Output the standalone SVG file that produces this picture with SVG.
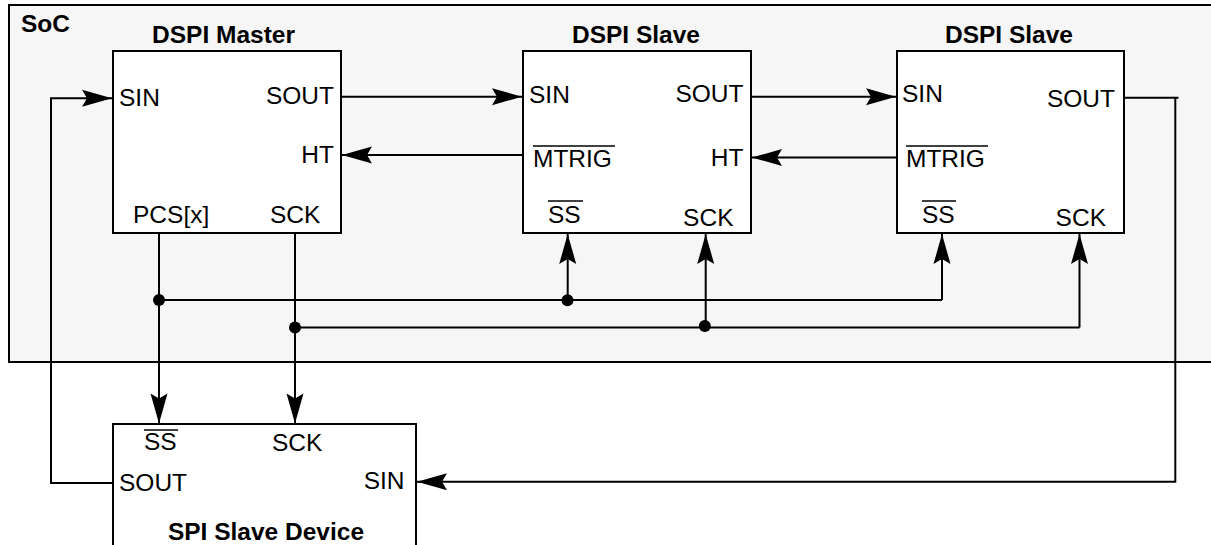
<svg xmlns="http://www.w3.org/2000/svg" width="1211" height="545" viewBox="0 0 1211 545">
<style>
.box{fill:#ffffff;stroke:#000;stroke-width:2}
.soc{fill:#f6f6f6;stroke:#000;stroke-width:2}
.w{fill:none;stroke:#000;stroke-width:2;stroke-linecap:butt}
.ol{stroke:#000;stroke-width:1.5}
.t{font-family:"Liberation Sans",Arial,sans-serif;font-size:24.5px;fill:#000}
.b{font-family:"Liberation Sans",Arial,sans-serif;font-size:24.5px;font-weight:bold;fill:#000}
.e{text-anchor:end}
.m{text-anchor:middle}
</style>
<defs>
<marker id="ah" viewBox="-31 -10 32 20" markerWidth="32" markerHeight="20" refX="0" refY="0" markerUnits="userSpaceOnUse" orient="auto">
<path d="M0,0 L-30,-8.5 L-25,0 L-30,8.5 Z" fill="#000"/>
</marker>
</defs>
<rect width="1211" height="545" fill="#fff"/>
<g id="soc">
<rect class="soc" x="9" y="5" width="1215" height="357"/>
<text class="b" x="21" y="32">SoC</text>
</g>
<g id="master">
<rect class="box" x="113" y="51" width="228" height="182"/>
<text class="b m" x="223.5" y="43">DSPI Master</text>
<text class="t" x="119" y="106">SIN</text>
<text class="t e" x="334" y="104">SOUT</text>
<text class="t e" x="334" y="163">HT</text>
<text class="t" x="133" y="223">PCS[x]</text>
<text class="t" x="270" y="223">SCK</text>
</g>
<g id="slave1">
<rect class="box" x="523" y="51" width="228" height="182"/>
<text class="b m" x="636" y="43">DSPI Slave</text>
<text class="t" x="529" y="103">SIN</text>
<text class="t e" x="743.5" y="102">SOUT</text>
<text class="t" x="533" y="167">MTRIG</text>
<line class="ol" x1="533" y1="146" x2="615" y2="146"/>
<text class="t e" x="743.5" y="166">HT</text>
<text class="t" x="548" y="223">SS</text>
<line class="ol" x1="548" y1="201" x2="583" y2="201"/>
<text class="t e" x="733.5" y="226">SCK</text>
</g>
<g id="slave2">
<rect class="box" x="897" y="51" width="227" height="182"/>
<text class="b m" x="1009" y="43">DSPI Slave</text>
<text class="t" x="902" y="102">SIN</text>
<text class="t e" x="1115" y="107">SOUT</text>
<text class="t" x="906" y="167">MTRIG</text>
<line class="ol" x1="906" y1="146" x2="988" y2="146"/>
<text class="t" x="922" y="223">SS</text>
<line class="ol" x1="922" y1="201" x2="956" y2="201"/>
<text class="t e" x="1106" y="226">SCK</text>
</g>
<g id="device">
<rect class="box" x="113" y="424" width="303" height="140"/>
<text class="t" x="144" y="450">SS</text>
<line class="ol" x1="144" y1="430" x2="178" y2="430"/>
<text class="t" x="272" y="451">SCK</text>
<text class="t" x="119" y="491">SOUT</text>
<text class="t e" x="404.5" y="489">SIN</text>
<text class="b m" x="266" y="540">SPI Slave Device</text>
</g>
<g id="connectors">
<path class="w" d="M113,483 H51 V98.3 H112" marker-end="url(#ah)"/>
<path class="w" d="M341,96.7 H522" marker-end="url(#ah)"/>
<path class="w" d="M523,155 H342" marker-end="url(#ah)"/>
<path class="w" d="M751,96.7 H896" marker-end="url(#ah)"/>
<path class="w" d="M897,157.5 H752" marker-end="url(#ah)"/>
<path class="w" d="M1124,97.7 H1178.5 M1175.3,97.7 V481.7 H417" marker-end="url(#ah)"/>
<path class="w" d="M159,233 V423.5" marker-end="url(#ah)"/>
<path class="w" d="M295,233 V423.5" marker-end="url(#ah)"/>
<path class="w" d="M159,300 H942"/>
<path class="w" d="M295,327.5 H1079.5"/>
<path class="w" d="M567.7,300 V234" marker-end="url(#ah)"/>
<path class="w" d="M705.7,327.5 V234" marker-end="url(#ah)"/>
<path class="w" d="M942,300 V234" marker-end="url(#ah)"/>
<path class="w" d="M1079.5,327.5 V234" marker-end="url(#ah)"/>
<circle cx="159" cy="300" r="6"/>
<circle cx="567.5" cy="300.3" r="6"/>
<circle cx="295" cy="327.5" r="6"/>
<circle cx="704.8" cy="326" r="6"/>
</g>
</svg>
